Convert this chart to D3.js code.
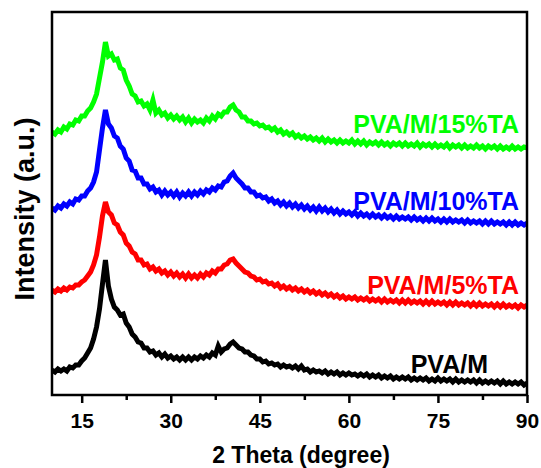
<!DOCTYPE html>
<html>
<head>
<meta charset="utf-8">
<script src="https://cdn.jsdelivr.net/npm/d3@7"></script>
<style>
  body { margin: 0; background: #fff; }
  text { font-family: "Liberation Sans", Arial, sans-serif; font-weight: bold; }
</style>
</head>
<body>
<div id="chart"></div>
<script>
// 2 theta grid (degree)
const twoTheta = [
  10, 10.5, 11, 11.5, 12, 12.5, 13, 13.5, 14, 14.5,
  15, 15.5, 16, 16.5, 17, 17.5, 18, 18.5, 19, 19.5,
  20, 20.5, 21, 21.5, 22, 22.5, 23, 23.5, 24, 24.5,
  25, 25.5, 26, 26.5, 27, 27.5, 28, 28.5, 29, 29.5,
  30, 30.5, 31, 31.5, 32, 32.5, 33, 33.5, 34, 34.5,
  35, 35.5, 36, 36.5, 37, 37.5, 38, 38.5, 39, 39.5,
  40, 40.5, 41, 41.5, 42, 42.5, 43, 43.5, 44, 44.5,
  45, 45.5, 46, 46.5, 47, 47.5, 48, 48.5, 49, 49.5,
  50, 50.5, 51, 51.5, 52, 52.5, 53, 53.5, 54, 54.5,
  55, 55.5, 56, 56.5, 57, 57.5, 58, 58.5, 59, 59.5,
  60, 60.5, 61, 61.5, 62, 62.5, 63, 63.5, 64, 64.5,
  65, 65.5, 66, 66.5, 67, 67.5, 68, 68.5, 69, 69.5,
  70, 70.5, 71, 71.5, 72, 72.5, 73, 73.5, 74, 74.5,
  75, 75.5, 76, 76.5, 77, 77.5, 78, 78.5, 79, 79.5,
  80, 80.5, 81, 81.5, 82, 82.5, 83, 83.5, 84, 84.5,
  85, 85.5, 86, 86.5, 87, 87.5, 88, 88.5, 89, 89.5,
  90
];

// intensities (a.u., stacked as in the figure)
const pvaM = [
  30, 28, 31, 29, 31, 29, 33, 32, 35, 35,
  39, 42, 47, 52, 61, 73, 91, 116, 140, 114,
  101, 93, 90, 85, 86, 77, 73, 66, 63, 58,
  57, 52, 52, 48, 49, 45, 47, 43, 46, 42,
  44, 41, 43, 40, 43, 40, 43, 40, 43, 41,
  44, 42, 45, 43, 47, 45, 54, 48, 51, 52,
  56, 58, 55, 52, 51, 48, 48, 45, 44, 41,
  41, 38, 39, 36, 37, 35, 36, 33, 35, 33,
  34, 32, 34, 31, 34, 30, 31, 28, 30, 28,
  29, 27, 29, 26, 28, 26, 28, 25, 27, 25,
  27, 25, 26, 24, 26, 24, 26, 23, 25, 23,
  25, 22, 24, 22, 24, 21, 23, 21, 23, 21,
  23, 20, 22, 20, 22, 20, 22, 19, 21, 19,
  22, 19, 21, 19, 21, 18, 21, 18, 20, 18,
  20, 18, 20, 17, 20, 17, 19, 17, 19, 17,
  19, 16, 19, 16, 18, 16, 18, 16, 18, 15,
  17
];
const ta5 = [
  110, 108, 111, 109, 112, 110, 113, 112, 115, 115,
  118, 120, 124, 128, 135, 145, 163, 184, 198, 188,
  185, 177, 175, 168, 165, 157, 154, 148, 146, 140,
  140, 135, 136, 131, 133, 129, 131, 127, 129, 125,
  128, 124, 127, 123, 126, 122, 126, 122, 125, 122,
  126, 123, 127, 125, 129, 127, 131, 131, 135, 136,
  140, 141, 137, 134, 131, 128, 127, 124, 123, 120,
  121, 118, 119, 116, 117, 114, 116, 112, 114, 111,
  113, 110, 112, 109, 111, 108, 110, 107, 109, 106,
  108, 105, 107, 104, 106, 103, 105, 102, 104, 101,
  103, 101, 103, 100, 102, 100, 102, 99, 101, 99,
  101, 98, 101, 98, 100, 98, 100, 97, 100, 97,
  100, 97, 99, 97, 99, 96, 99, 96, 99, 96,
  98, 96, 98, 95, 98, 95, 98, 95, 97, 95,
  97, 94, 97, 94, 97, 94, 96, 94, 96, 93,
  96, 93, 96, 93, 95, 93, 95, 92, 95, 93,
  95
];
const ta10 = [
  192, 190, 194, 192, 196, 194, 198, 196, 201, 200,
  204, 204, 209, 212, 218, 228, 250, 272, 290, 276,
  272, 264, 262, 254, 251, 242, 239, 230, 229, 222,
  222, 216, 216, 211, 213, 208, 210, 205, 209, 205,
  208, 204, 208, 203, 207, 204, 208, 204, 208, 205,
  209, 206, 210, 208, 212, 210, 214, 213, 218, 219,
  224, 227, 222, 219, 216, 212, 212, 208, 208, 204,
  205, 202, 203, 199, 201, 197, 199, 195, 198, 194,
  197, 193, 196, 192, 195, 191, 194, 190, 193, 189,
  193, 189, 192, 188, 191, 187, 190, 186, 189, 186,
  188, 185, 188, 184, 187, 184, 186, 183, 186, 183,
  185, 182, 185, 182, 184, 181, 184, 181, 183, 181,
  183, 180, 183, 180, 182, 179, 182, 179, 182, 179,
  181, 178, 181, 178, 181, 178, 180, 178, 180, 177,
  180, 177, 179, 177, 179, 176, 179, 176, 179, 176,
  178, 176, 178, 175, 178, 175, 178, 175, 177, 175,
  177
];
const ta15 = [
  268, 266, 270, 268, 273, 271, 276, 275, 280, 279,
  284, 284, 289, 292, 298, 306, 322, 338, 358, 344,
  346, 340, 341, 332, 330, 320, 314, 306, 304, 298,
  299, 294, 296, 290, 300, 287, 290, 285, 287, 282,
  285, 281, 284, 280, 283, 278, 282, 277, 281, 278,
  280, 277, 282, 279, 284, 281, 286, 284, 288, 288,
  293, 295, 290, 288, 283, 283, 279, 279, 276, 277,
  274, 275, 272, 273, 270, 272, 268, 270, 266, 268,
  265, 267, 263, 265, 262, 264, 261, 263, 260, 262,
  259, 262, 258, 261, 258, 260, 257, 260, 257, 259,
  257, 260, 256, 259, 256, 259, 255, 258, 256, 258,
  255, 258, 255, 257, 254, 257, 255, 257, 254, 257,
  254, 256, 254, 257, 253, 256, 254, 256, 253, 256,
  253, 255, 253, 256, 252, 255, 253, 255, 252, 255,
  252, 254, 252, 255, 252, 254, 251, 254, 252, 254,
  251, 254, 251, 253, 251, 254, 251, 253, 251, 253,
  252
];

const seriesNames = ["PVA/M", "PVA/M/5%TA", "PVA/M/10%TA", "PVA/M/15%TA"];
const seriesValues = [pvaM, ta5, ta10, ta15];
const seriesColors = ["#000000", "#ff0000", "#0000ff", "#00ff00"];
const majorTicks = [15, 30, 45, 60, 75, 90];
const minorTicks = [22.5, 37.5, 52.5, 67.5, 82.5];

const width = 541, height = 468;
const margin = { top: 12, right: 14, bottom: 73, left: 52 };
const innerW = width - margin.left - margin.right;
const innerH = height - margin.top - margin.bottom;

const svg = d3.select("#chart").append("svg")
    .attr("width", width)
    .attr("height", height);

const x = d3.scaleLinear().domain([10, 90]).range([margin.left, margin.left + innerW]);
const y = d3.scaleLinear().domain([5, 388]).range([margin.top + innerH, margin.top]);

svg.append("clipPath").attr("id", "plot-clip")
  .append("rect")
    .attr("x", margin.left).attr("y", margin.top)
    .attr("width", innerW).attr("height", innerH);

const line = d3.line()
    .x((d, i) => x(twoTheta[i]))
    .y(d => y(d));

// curves (thick stroke stands in for the noisy band)
svg.append("g")
    .attr("clip-path", "url(#plot-clip)")
  .selectAll("path")
  .data(seriesValues)
  .join("path")
    .attr("d", line)
    .attr("fill", "none")
    .attr("stroke", (d, i) => seriesColors[i])
    .attr("stroke-width", 5)
    .attr("stroke-linejoin", "miter");

// minor ticks
svg.append("g")
    .attr("transform", `translate(0,${margin.top + innerH})`)
    .call(d3.axisBottom(x).tickValues(minorTicks).tickSize(5).tickFormat(""))
    .call(g => g.select(".domain").remove())
    .call(g => g.selectAll("line").attr("stroke-width", 2.5));

// major ticks
svg.append("g")
    .attr("transform", `translate(0,${margin.top + innerH})`)
    .call(d3.axisBottom(x).tickValues(majorTicks).tickSize(8).tickPadding(10))
    .call(g => g.select(".domain").remove())
    .call(g => g.selectAll("line").attr("stroke-width", 2.5))
    .call(g => g.selectAll("text")
        .attr("font-size", 21)
        .attr("font-family", "'Liberation Sans', Arial, sans-serif")
        .attr("font-weight", "bold")
        .attr("fill", "#000"));

// frame
svg.append("rect")
    .attr("x", margin.left).attr("y", margin.top)
    .attr("width", innerW).attr("height", innerH)
    .attr("fill", "none")
    .attr("stroke", "#000")
    .attr("stroke-width", 2.5);

// series labels
const labelPos = [[488, 373], [519, 294], [519, 210], [519, 133]];
svg.selectAll(".label")
  .data(seriesNames)
  .join("text")
    .attr("class", "label")
    .attr("x", (d, i) => labelPos[i][0])
    .attr("y", (d, i) => labelPos[i][1])
    .attr("text-anchor", "end")
    .attr("font-size", 25)
    .attr("fill", (d, i) => seriesColors[i])
    .text(d => d);

// axis titles
svg.append("text")
    .attr("x", 301).attr("y", 463)
    .attr("text-anchor", "middle")
    .attr("font-size", 23)
    .text("2 Theta (degree)");

svg.append("text")
    .attr("transform", "translate(34,209) rotate(-90)")
    .attr("text-anchor", "middle")
    .attr("font-size", 27)
    .text("Intensity (a.u.)");
</script>
</body>
</html>
